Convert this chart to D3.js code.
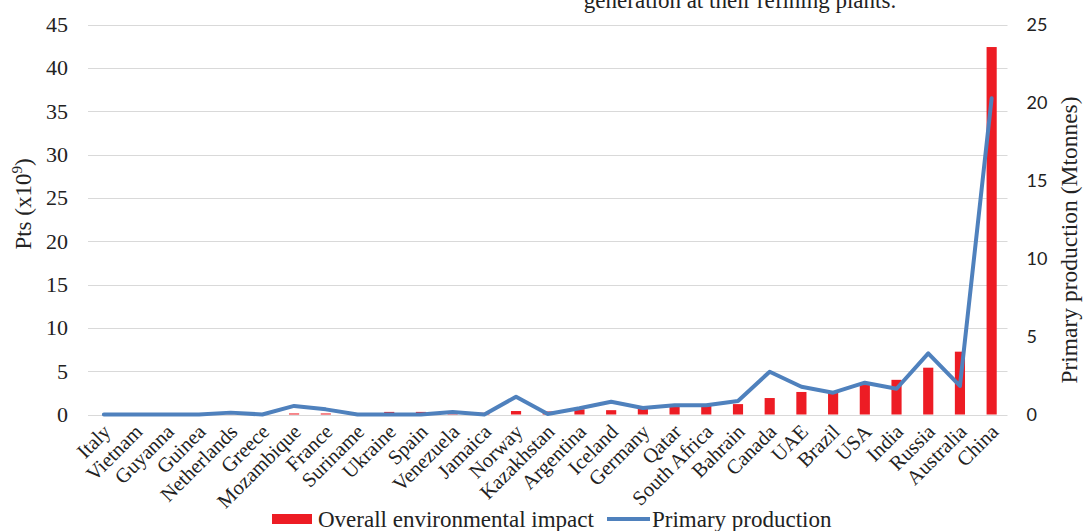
<!DOCTYPE html>
<html>
<head>
<meta charset="utf-8">
<script src="https://cdn.jsdelivr.net/npm/d3@7"></script>
<style>
  html, body { margin: 0; padding: 0; background: #fff; overflow: hidden; }
  svg { display: block; }
</style>
</head>
<body>
<svg id="chart" width="1088" height="531"></svg>
<script>
// Countries, ordered by overall impact
const countries = ["Italy", "Vietnam", "Guyanna", "Guinea", "Netherlands", "Greece", "Mozambique",
  "France", "Suriname", "Ukraine", "Spain", "Venezuela", "Jamaica", "Norway", "Kazakhstan",
  "Argentina", "Iceland", "Germany", "Qatar", "South Africa", "Bahrain", "Canada", "UAE",
  "Brazil", "USA", "India", "Russia", "Australia", "China"];

// Overall environmental impact, Pts (x10^9)
const impact = [0, 0, 0, 0, 0.02, 0, 0.12, 0.12, 0.03, 0.3, 0.3, 0.05, 0.2, 0.4, 0.35,
  0.6, 0.5, 0.8, 1.0, 1.0, 1.2, 1.9, 2.6, 2.5, 3.4, 4.0, 5.4, 7.25, 42.4];

// Primary production, Mtonnes
const production = [0, 0, 0, 0, 0.12, 0, 0.55, 0.33, 0, 0, 0, 0.16, 0, 1.14, 0.03,
  0.4, 0.82, 0.42, 0.59, 0.59, 0.87, 2.74, 1.78, 1.4, 2.04, 1.65, 3.92, 1.83, 20.27];

const leftTicks = [0, 5, 10, 15, 20, 25, 30, 35, 40, 45];
const rightTicks = [0, 5, 10, 15, 20, 25];

const svg = d3.select("#chart");
const plot = { left: 88, right: 1007.5, top: 24.5, bottom: 414.5 };

const x = d3.scaleBand().domain(countries).range([plot.left, plot.right]).paddingInner(0.68).paddingOuter(0.34);
const yL = d3.scaleLinear().domain([0, 45]).range([plot.bottom, plot.top]);
const yR = d3.scaleLinear().domain([0, 25]).range([plot.bottom, plot.top]);

const serif = "'Liberation Serif', 'Times New Roman', serif";
const sans = "Lato, 'Open Sans', sans-serif";
const ink = "#222";

// Caption text running off the top edge
svg.append("text")
  .attr("x", 740).attr("y", 8)
  .attr("text-anchor", "middle")
  .style("font-family", serif).style("font-size", "23px").style("fill", ink)
  .text("generation at their refining plants.");

// Horizontal gridlines
svg.append("g")
  .selectAll("line")
  .data(leftTicks)
  .join("line")
  .attr("x1", plot.left).attr("x2", plot.right)
  .attr("y1", d => Math.round(yL(d)) + 0.5).attr("y2", d => Math.round(yL(d)) + 0.5)
  .attr("stroke", "#d9d9d9").attr("stroke-width", 1);

// Left axis
const leftAxis = svg.append("g")
  .attr("transform", `translate(${plot.left},0)`)
  .call(d3.axisLeft(yL).tickValues(leftTicks).tickSize(0).tickPadding(20));
leftAxis.select(".domain").remove();
leftAxis.selectAll("text")
  .style("font-family", serif).style("font-size", "22px").style("fill", ink);

// Right axis
const rightAxis = svg.append("g")
  .attr("transform", `translate(${plot.right},0)`)
  .call(d3.axisRight(yR).tickValues(rightTicks).tickSize(0).tickPadding(19));
rightAxis.select(".domain").remove();
rightAxis.selectAll("text")
  .style("font-family", sans).style("font-size", "18px").style("fill", ink);

// Axis titles
svg.append("text")
  .attr("transform", "translate(31,204) rotate(-90)")
  .attr("text-anchor", "middle")
  .style("font-family", serif).style("font-size", "23px").style("fill", ink)
  .call(t => {
    t.append("tspan").text("Pts (x10");
    t.append("tspan").attr("dy", -9).style("font-size", "15px").text("9");
    t.append("tspan").attr("dy", 9).text(")");
  });

svg.append("text")
  .attr("transform", "translate(1077,240) rotate(-90)")
  .attr("text-anchor", "middle")
  .style("font-family", serif).style("font-size", "23.5px").style("fill", ink)
  .text("Primary production (Mtonnes)");

// Bars
svg.append("g")
  .selectAll("rect")
  .data(countries.map((c, i) => ({ c, v: impact[i] })))
  .join("rect")
  .attr("x", d => x(d.c))
  .attr("width", x.bandwidth())
  .attr("y", d => yL(d.v))
  .attr("height", d => yL(0) - yL(d.v))
  .attr("fill", "#ed1c24");

// Production line
const line = d3.line()
  .x((d, i) => x(countries[i]) + x.bandwidth() / 2)
  .y(d => yR(d));
svg.append("path")
  .datum(production)
  .attr("d", line)
  .attr("fill", "none")
  .attr("stroke", "#4f81bd")
  .attr("stroke-width", 4)
  .attr("stroke-linejoin", "round")
  .attr("stroke-linecap", "round");

// Category labels, rotated
svg.append("g")
  .selectAll("text")
  .data(countries)
  .join("text")
  .attr("transform", d => `translate(${x(d) + x.bandwidth() / 2 + 8},${433}) rotate(-45)`)
  .attr("text-anchor", "end")
  .style("font-family", serif).style("font-size", "20.5px").style("fill", ink)
  .text(d => d);

// Legend
const legend = svg.append("g");
legend.append("rect")
  .attr("x", 272).attr("y", 514).attr("width", 40).attr("height", 10)
  .attr("fill", "#ed1c24");
legend.append("text")
  .attr("x", 318).attr("y", 527)
  .style("font-family", serif).style("font-size", "23px").style("fill", ink)
  .text("Overall environmental impact");
legend.append("line")
  .attr("x1", 607).attr("x2", 650).attr("y1", 519).attr("y2", 519)
  .attr("stroke", "#4f81bd").attr("stroke-width", 4);
legend.append("text")
  .attr("x", 652).attr("y", 527)
  .style("font-family", serif).style("font-size", "23px").style("fill", ink)
  .text("Primary production");
</script>
</body>
</html>
